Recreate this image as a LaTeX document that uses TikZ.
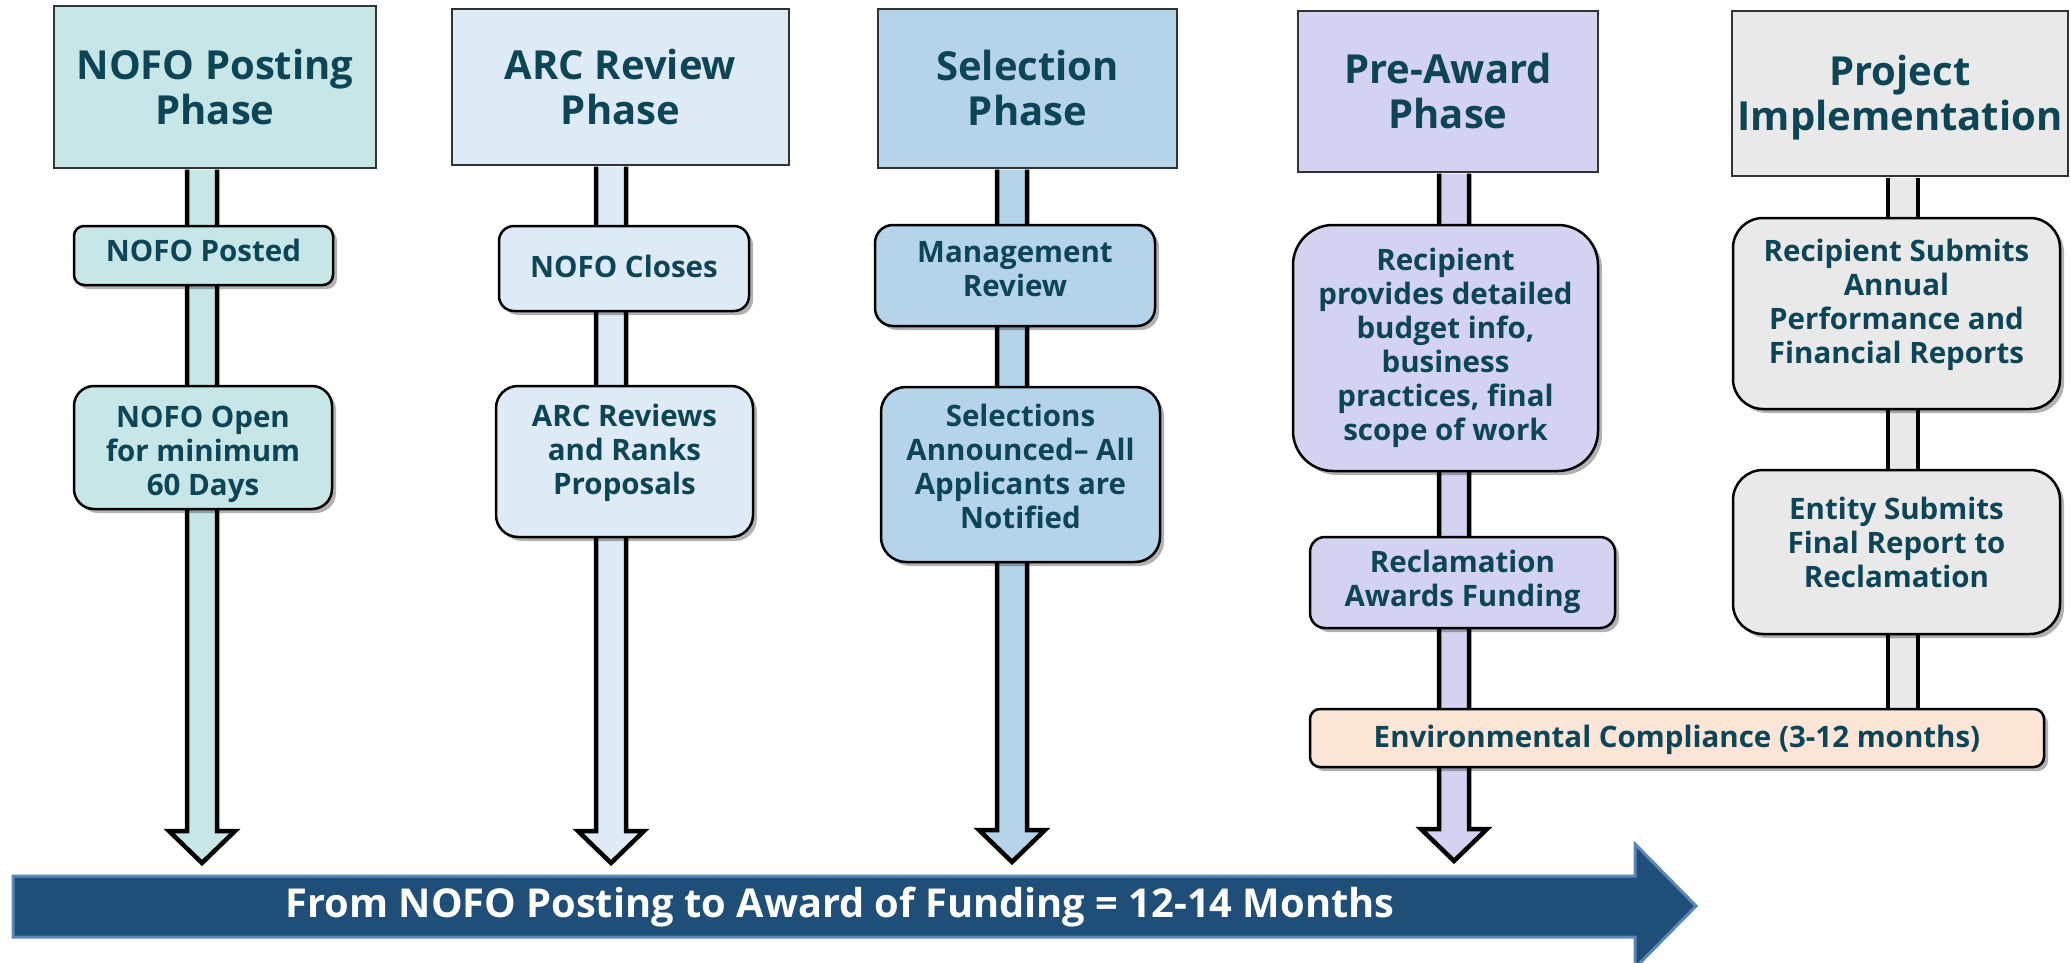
\documentclass[tikz,border=0pt]{standalone}
\usepackage{fontspec}
\setmainfont{Open Sans}
\usetikzlibrary{calc,shadows}
\definecolor{c1}{HTML}{C6E6E8}
\definecolor{c2}{HTML}{DEEAF6}
\definecolor{c3}{HTML}{B5D4E9}
\definecolor{c4}{HTML}{D3D2F0}
\definecolor{c5}{HTML}{E9E9E9}
\definecolor{cenv}{HTML}{FBE5D6}
\definecolor{txt}{HTML}{0D4556}
\definecolor{navy}{HTML}{1F4E79}
\definecolor{navyedge}{HTML}{5A86B8}
\pgfdeclarelayer{bg}
\pgfsetlayers{bg,main}
\newcommand\hdrfont{\fontsize{40}{45}\selectfont\bfseries}
\newcommand\boxfont{\fontsize{29.5}{34}\selectfont\bfseries}
\newcommand\bigfont{\fontsize{39.8}{45}\selectfont\bfseries}
\newcommand\colarrow[3]{%
  \filldraw[shaft,fill=#3] ($(#1.south -| #2)+(-15,1)$) -- ($(#2)+(-15,-32)$) -- ($(#2)+(-33,-32)$) -- (#2) -- ($(#2)+(33,-32)$) -- ($(#2)+(15,-32)$) -- ($(#1.south -| #2)+(15,1)$);}
\begin{document}
\begin{tikzpicture}[x=1pt,y=-1pt,
  hdr/.style={draw=black!80, line width=1.5pt, font=\hdrfont, text=txt, align=center, inner sep=0pt},
  box/.style={draw=black, line width=2.5pt, font=\boxfont, text=txt, align=center, inner sep=0pt,
    drop shadow={shadow xshift=4pt, shadow yshift=-4pt, opacity=0.3, fill=black}},
  tx/.style 2 args={execute at begin node={\rule{0pt}{#1pt}}, execute at end node={\rule[-#2pt]{0pt}{#2pt}}},
  shaft/.style={draw=black, line width=4.5pt, line join=miter},
  bigtxt/.style={font=\bigfont, text=white, inner sep=0pt}
]
\useasboundingbox (0,0) rectangle (2070,963);
% headers
\node[hdr, fill=c1, minimum width=322pt, minimum height=162pt] (h1) at (215,87) {NOFO Posting\\Phase};
\node[hdr, fill=c2, minimum width=337pt, minimum height=156pt] (h2) at (620.5,87) {ARC Review\\Phase};
\node[hdr, fill=c3, minimum width=299pt, minimum height=159pt] (h3) at (1027.5,88.5) {Selection\\Phase};
\node[hdr, fill=c4, minimum width=300pt, minimum height=161pt] (h4) at (1448,91.5) {Pre-Award\\Phase};
\node[hdr, fill=c5, tx={83}{9}, minimum width=336pt, minimum height=165pt] (h5) at (1900,93.5) {Project\\Implementation};
% tips
\coordinate (t1) at (202,863);
\coordinate (t2) at (611,863);
\coordinate (t3) at (1012,862);
\coordinate (t4) at (1454,861);
\coordinate (t5) at (1903,738);
% boxes
\node[box, tx={24}{12}, fill=c1, rounded corners=10pt, minimum width=259pt, minimum height=59pt] (b11) at (203.5,255.5) {NOFO Posted};
\node[box, tx={104}{8}, fill=c1, rounded corners=20pt, minimum width=258pt, minimum height=123pt] (b12) at (203,447.5) {NOFO Open\\for minimum\\60 Days};
\node[box, tx={24}{7}, fill=c2, rounded corners=15pt, minimum width=250pt, minimum height=85pt] (b21) at (624,268.5) {NOFO Closes};
\node[box, tx={24}{24}, fill=c2, rounded corners=22pt, minimum width=257pt, minimum height=151pt] (b22) at (624.5,461.5) {ARC Reviews\\and Ranks\\Proposals};
\node[box, tx={24}{14}, fill=c3, rounded corners=18pt, minimum width=280pt, minimum height=101pt] (b31) at (1015,275.5) {Management\\Review};
\node[box, tx={24}{17}, fill=c3, rounded corners=25pt, minimum width=279pt, minimum height=175pt] (b32) at (1020.5,474.5) {Selections\\Announced– All\\Applicants are\\Notified};
\node[box, tx={24}{8}, fill=c4, rounded corners=40pt, minimum width=305pt, minimum height=246pt] (b41) at (1445.5,348) {Recipient\\provides detailed\\budget info,\\business\\practices, final\\scope of work};
\node[box, tx={24}{8}, fill=c4, rounded corners=15pt, minimum width=305pt, minimum height=91pt] (b42) at (1462.5,582.5) {Reclamation\\Awards Funding};
\node[box, tx={24}{24}, fill=c5, rounded corners=30pt, minimum width=327pt, minimum height=191pt] (b51) at (1896.5,313.5) {Recipient Submits\\Annual\\Performance and\\Financial Reports};
\node[box, tx={24}{20}, fill=c5, rounded corners=30pt, minimum width=327pt, minimum height=164pt] (b52) at (1896.5,552) {Entity Submits\\Final Report to\\Reclamation};
\node[box, tx={27}{8}, fill=cenv, rounded corners=10pt, minimum width=734pt, minimum height=58pt] (env) at (1677,738) {Environmental Compliance (3-12 months)};
% shafts
\begin{pgfonlayer}{bg}
\colarrow{h1}{t1}{c1}
\colarrow{h2}{t2}{c2}
\colarrow{h3}{t3}{c3}
\colarrow{h4}{t4}{c4}
\filldraw[shaft, fill=c5] ($(h5.south -| t5)+(-15,1)$) -- ($(t5)+(-15,0)$) -- ($(t5)+(15,0)$) -- ($(h5.south -| t5)+(15,1)$);
\end{pgfonlayer}
% timeline arrow
\filldraw[fill=navy, draw=navyedge, line width=3pt] (13,876) -- (1635,876) -- (1635,844) -- (1696,906) -- (1635,968) -- (1635,937) -- (13,937) -- cycle;
\node[bigtxt] (timeline) at (840,907) {From NOFO Posting to Award of Funding = 12-14 Months};
\end{tikzpicture}
\end{document}
